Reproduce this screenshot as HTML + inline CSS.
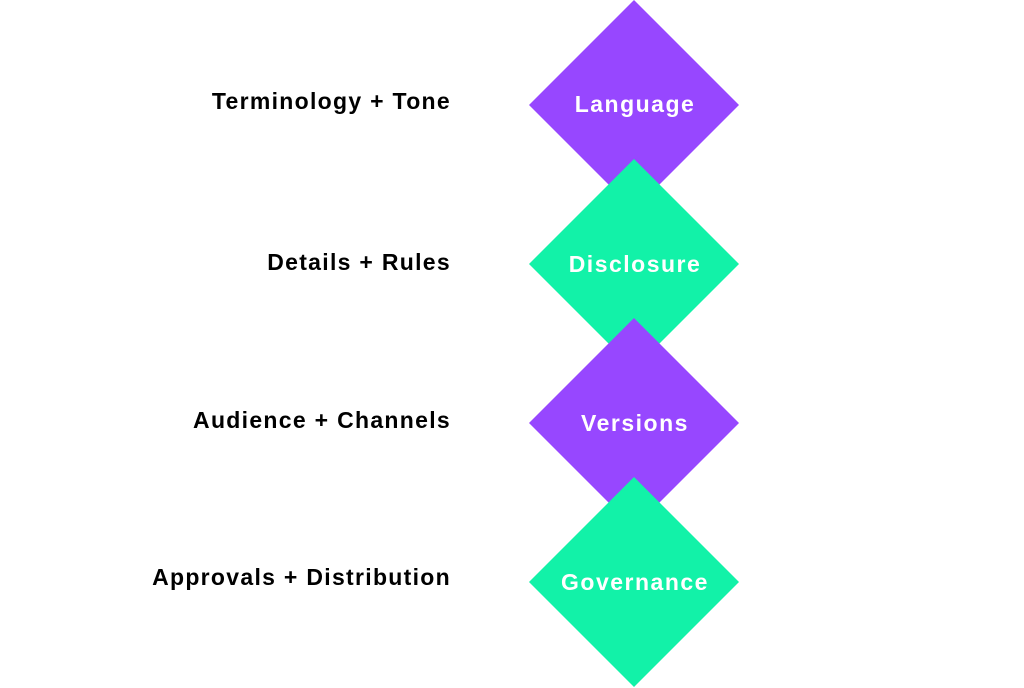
<!DOCTYPE html>
<html><head><style>
html,body{margin:0;padding:0;background:#fff;width:1024px;height:688px;overflow:hidden}
.l{position:absolute;right:573px;font:bold 23px "Liberation Sans",sans-serif;letter-spacing:1.3px;color:#000;white-space:nowrap;line-height:22px}
svg{position:absolute;left:0;top:0}
</style></head><body>
<svg width="1024" height="688" viewBox="0 0 1024 688">
<g font-family="Liberation Sans, sans-serif" font-weight="bold" font-size="23" letter-spacing="1.5" fill="#fff" text-anchor="middle">
<polygon points="634,0 739,105 634,210 529,105" fill="#9747FF"/>
<text x="635" y="112">Language</text>
<polygon points="634,159 739,264 634,369 529,264" fill="#12F2A8"/>
<text x="635" y="272">Disclosure</text>
<polygon points="634,318 739,423 634,528 529,423" fill="#9747FF"/>
<text x="635" y="431">Versions</text>
<polygon points="634,477 739,582 634,687 529,582" fill="#12F2A8"/>
<text x="635" y="590">Governance</text>
</g>
</svg>
<div class="l" style="top:90px">Terminology + Tone</div>
<div class="l" style="top:251px">Details + Rules</div>
<div class="l" style="top:409px">Audience + Channels</div>
<div class="l" style="top:566px">Approvals + Distribution</div>
</body></html>
